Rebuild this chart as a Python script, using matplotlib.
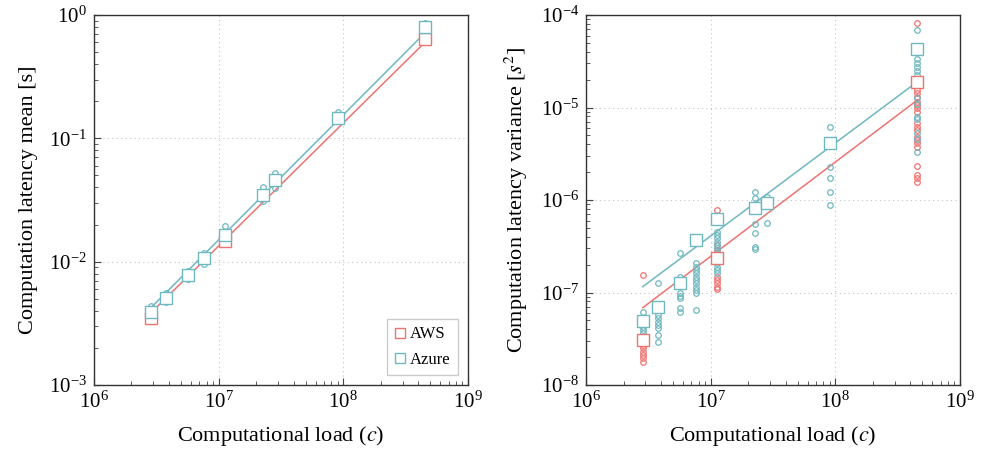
import numpy as np
import matplotlib
matplotlib.use('Agg')
import matplotlib.pyplot as plt

plt.rcParams['font.family'] = ['Liberation Serif', 'DejaVu Serif']
plt.rcParams['mathtext.fontset'] = 'stix'

# Computational load of each configuration
loads = [2.85e6, 3.8e6, 5.7e6, 7.6e6, 1.13e7, 2.27e7, 2.83e7, 9.05e7, 4.5e8]
aws_loads = [2.85e6, 1.13e7, 4.5e8]

# Mean latency [s]
azure_mean = [3.92e-3, 5.09e-3, 7.78e-3, 1.07e-2, 1.66e-2, 3.49e-2, 4.59e-2, 0.147, 0.795]
aws_mean = [3.47e-3, 1.47e-2, 0.643]
azure_mean_runs = [
    [4.36e-3],
    [5.6e-3, 4.73e-3],
    [8.44e-3, 7.18e-3],
    [1.17e-2, 9.5e-3],
    [1.94e-2],
    [4.03e-2, 3.1e-2],
    [5.2e-2, 3.94e-2],
    [0.164],
    [0.866],
]

# Latency variance [s^2]
azure_var = [4.92e-8, 7.03e-8, 1.26e-7, 3.66e-7, 6.23e-7, 8.3e-7, 9.2e-7, 4.17e-6, 4.28e-5]
aws_var = [3.05e-8, 2.37e-7, 1.9e-5]
azure_var_runs = [
    [6.2e-8, 4.27e-8, 3.93e-8, 3.62e-8],
    [1.26e-7, 5.71e-8, 5.26e-8, 4.83e-8, 4.45e-8, 4.1e-8, 3.47e-8, 2.94e-8],
    [2.65e-7, 1.48e-7, 1.0e-7, 9.23e-8, 8.65e-8, 6.75e-8, 6.2e-8],
    [2.07e-7, 1.9e-7, 1.75e-7, 1.61e-7, 1.48e-7, 1.36e-7, 1.26e-7, 1.16e-7, 1.06e-7, 9.8e-8, 6.47e-8],
    [4.54e-7, 4.19e-7, 3.86e-7, 3.54e-7, 3.26e-7, 3.0e-7, 2.76e-7, 2.08e-7, 1.9e-7, 1.75e-7, 1.61e-7],
    [1.23e-6, 1.06e-6, 5.5e-7, 4.36e-7, 3.13e-7, 2.95e-7],
    [1.09e-6, 5.69e-7],
    [6.2e-6, 2.29e-6, 1.71e-6, 1.23e-6, 8.83e-7],
    [6.88e-5, 3.37e-5, 3.0e-5, 2.76e-5, 2.48e-5, 2.24e-5, 1.26e-5, 1.1e-5, 7.96e-6,
     7.45e-6, 5.35e-6, 4.6e-6, 3.33e-6],
]
aws_var_runs = [
    [1.55e-7, 2.7e-8, 2.49e-8, 2.29e-8, 2.11e-8, 1.94e-8, 1.79e-8],
    [7.8e-7, 3.26e-7, 2.9e-7, 1.48e-7, 1.36e-7, 1.26e-7, 1.16e-7, 1.08e-7],
    [8.13e-5, 1.55e-5, 1.43e-5, 1.31e-5, 1.16e-5, 1.06e-5, 9.8e-6, 9.0e-6, 6.74e-6,
     6.2e-6, 5.71e-6, 4.83e-6, 4.45e-6, 4.1e-6, 3.77e-6, 2.33e-6, 1.86e-6, 1.72e-6, 1.58e-6],
]

# Power-law fits: log10(y) = slope * log10(c) + offset
azure_mean_fit = (1.014, -8.921)
aws_mean_fit = (0.998, -8.859)
azure_var_fit = (1.006, -13.431)
aws_var_fit = (1.019, -13.742)

AWS_COLOR = '#ee7370'
AZURE_COLOR = '#6fb8c0'

fig = plt.figure(figsize=(9.86, 4.5), dpi=100)
ax1 = fig.add_axes([0.0953, 0.1444, 0.3793, 0.8222])
ax2 = fig.add_axes([0.5943, 0.1444, 0.3793, 0.8222])


def draw_runs(ax, xs, runs, color):
    for x, vals in zip(xs, runs):
        ax.plot([x] * len(vals), vals, 'o', ms=4, mfc='none', mec=color, mew=0.9, zorder=3)


def draw_fit(ax, xs, fit, color):
    lx = np.log10([xs[0], xs[-1]])
    ax.plot(10 ** lx, 10 ** (fit[0] * lx + fit[1]), '-', color=color, lw=1.1, zorder=2)


def style(ax, ylim):
    ax.set_xscale('log')
    ax.set_yscale('log')
    ax.set_xlim(1e6, 1e9)
    ax.set_ylim(*ylim)
    ax.grid(True, which='major', ls=(0, (1, 3)), color='#c4c4c4', lw=0.8)
    ax.tick_params(which='both', direction='in', top=False, right=False, labelsize=15, colors='#444444',
                   labelcolor='black')
    ax.tick_params(which='major', length=5, pad=5)
    ax.tick_params(which='minor', length=3)
    for s in ax.spines.values():
        s.set_color('#333333')
        s.set_linewidth(1.0)
    ax.set_xlabel('Computational load ($c$)', fontsize=16, labelpad=8)


# Mean latency panel
draw_fit(ax1, loads, aws_mean_fit, AWS_COLOR)
draw_fit(ax1, loads, azure_mean_fit, AZURE_COLOR)
draw_runs(ax1, loads, azure_mean_runs, AZURE_COLOR)
ax1.plot(aws_loads, aws_mean, 's', ms=8, mfc='white', mec=AWS_COLOR, mew=1.0, zorder=4, label='AWS')
ax1.plot(loads, azure_mean, 's', ms=8, mfc='white', mec=AZURE_COLOR, mew=1.0, zorder=5, label='Azure')
style(ax1, (1e-3, 1))
ax1.set_ylabel('Computation latency mean [s]', fontsize=16, labelpad=8)
leg = ax1.legend(loc='lower right', fontsize=12, fancybox=False, framealpha=1, edgecolor='#cccccc',
                 handlelength=0.6, handletextpad=0.3, borderpad=0.45, labelspacing=0.55,
                 borderaxespad=0.6)
for h in leg.legend_handles:
    h.set_markerfacecolor('none')
    h.set_markersize(7)

# Variance panel
draw_fit(ax2, aws_loads, aws_var_fit, AWS_COLOR)
draw_fit(ax2, loads, azure_var_fit, AZURE_COLOR)
draw_runs(ax2, aws_loads, aws_var_runs, AWS_COLOR)
draw_runs(ax2, loads, azure_var_runs, AZURE_COLOR)
ax2.plot(aws_loads, aws_var, 's', ms=8, mfc='white', mec=AWS_COLOR, mew=1.0, zorder=4)
ax2.plot(loads, azure_var, 's', ms=8, mfc='white', mec=AZURE_COLOR, mew=1.0, zorder=5)
style(ax2, (1e-8, 1e-4))
ax2.set_ylabel('Computation latency variance [$s^2$]', fontsize=16, labelpad=8)

fig.savefig('out.png', dpi=100)
